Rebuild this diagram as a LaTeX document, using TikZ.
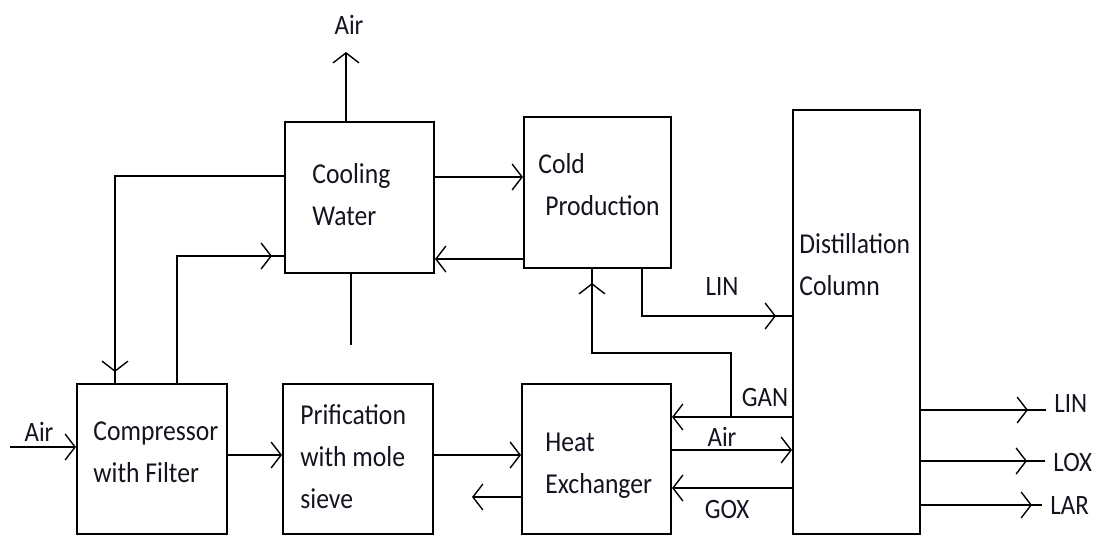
\documentclass[tikz,border=0pt]{standalone}
\usepackage{fontspec}
\setmainfont[FakeStretch=0.89]{Carlito}
\usepackage{tikz}
\usetikzlibrary{arrows.meta,decorations.markings}
\definecolor{ink}{HTML}{141420}
\definecolor{edge}{HTML}{000000}

\begin{document}
\begin{tikzpicture}[x=0.5pt, y=-0.5pt,
    every node/.style={text=ink},
    blk/.style={draw=edge, line width=1pt, inner sep=0pt},
    txt/.style={anchor=west, align=left, inner sep=0pt,
                font=\fontsize{14.4}{21}\selectfont},
    lbl/.style={inner sep=0pt, font=\fontsize{14}{15}\selectfont},
    flowtip/.tip={Straight Barb[length=5pt, width=13pt, line width=0.7pt]},
    flow/.style={draw=edge, line width=1pt},
    flowend/.style={flow, -flowtip},
    flowat/.style={flow, postaction={decorate},
                   decoration={markings, mark=at position -#1 with {\arrow{flowtip}}}},
  ]
  \useasboundingbox (0,0) rectangle (1095,536);

  % the boxes
  \node[blk, minimum width=74.5pt, minimum height=75.5pt] (cool) at (359.5,197.5) {};
  \node[blk, minimum width=73.5pt, minimum height=75.5pt] (cold) at (597.5,192.5) {};
  \node[blk, minimum width=63.5pt, minimum height=212pt] (dist) at (856.5,322) {};
  \node[blk, minimum width=75pt, minimum height=75pt] (comp) at (152,459) {};
  \node[blk, minimum width=75pt, minimum height=75pt] (prif) at (358,459) {};
  \node[blk, minimum width=74.5pt, minimum height=75pt] (heat) at (596.5,459) {};

  % box texts
  \node[txt] (coolt) at (312,195) {Cooling\\Water};
  \node[txt] (coldt) at (538,185) {Cold\\\hspace{3.5pt}Production};
  \node[txt] (distt) at (799,265) {Distillation\\Column};
  \node[txt] (compt) at (93,452.5) {Compressor\\with Filter};
  \node[txt] (prift) at (300,456.5) {Prification\\with mole\\sieve};
  \node[txt] (heatt) at (545,465.5) {Heat\\Exchanger};

  % feed line
  \coordinate (airin) at (10,447);
  \draw[flowend] (airin) -- (airin -| comp.west);
  \node[lbl] (airinl) at (39,432) {Air};
  \draw[flowend] (comp.east |- 0,455) -- (prif.west |- 0,455);
  \draw[flowend] (prif.east |- 0,455) -- (heat.west |- 0,455);
  \coordinate (heatout) at (472,497);
  \draw[flowend] (heat.west |- heatout) -- (heatout);

  % heat exchanger <-> column
  \draw[flowend] (dist.west |- 0,417) -- (heat.east |- 0,417);
  \draw[flowend] (heat.east |- 0,450) -- (dist.west |- 0,450);
  \draw[flowend] (dist.west |- 0,488) -- (heat.east |- 0,488);
  \node[lbl] (ganl) at (765,398) {GAN};
  \node[lbl] (airl) at (722,437) {Air};
  \node[lbl] (goxl) at (727,509) {GOX};
  \coordinate (ganup) at (731,417);
  \coordinate (gancold) at (592,353);
  \draw[flowat=7pt] (ganup) |- (gancold) -- (cold.south -| gancold);

  % cold production to column
  \draw[flowat=8pt] (cold.south -| 642,0) |- (dist.west |- 0,316);
  \node[lbl] (linl) at (722,287) {LIN};

  % cooling water loops
  \draw[flowend] (cool.east |- 0,177) -- (cold.west |- 0,177);
  \draw[flowend] (cold.west |- 0,259) -- (cool.east |- 0,259);
  \coordinate (airout) at (346,52);
  \draw[flowend] (cool.north -| airout) -- (airout);
  \node[lbl] (airoutl) at (349,25) {Air};
  \coordinate (coolstub) at (351,345);
  \draw[flow] (cool.south -| coolstub) -- (coolstub);
  \draw[flowat=5.5pt] (cool.west |- 0,176) -| (comp.north -| 115,0);
  \draw[flowat=6pt] (comp.north -| 177,0) |- (cool.west |- 0,256);

  % products
  \node[lbl, anchor=west, inner xsep=4pt] (linr) at (1046,404) {LIN};
  \node[lbl, anchor=west, inner xsep=4pt] (loxr) at (1045,462) {LOX};
  \node[lbl, anchor=west, inner xsep=4pt] (larr) at (1042,506) {LAR};
  \draw[flowat=9pt] (dist.east |- 0,410) -- (linr.west |- 0,410);
  \draw[flowat=9pt] (dist.east |- 0,461) -- (loxr.west |- 0,461);
  \draw[flowat=5pt] (dist.east |- 0,505) -- (larr.west |- 0,505);
\end{tikzpicture}
\end{document}
